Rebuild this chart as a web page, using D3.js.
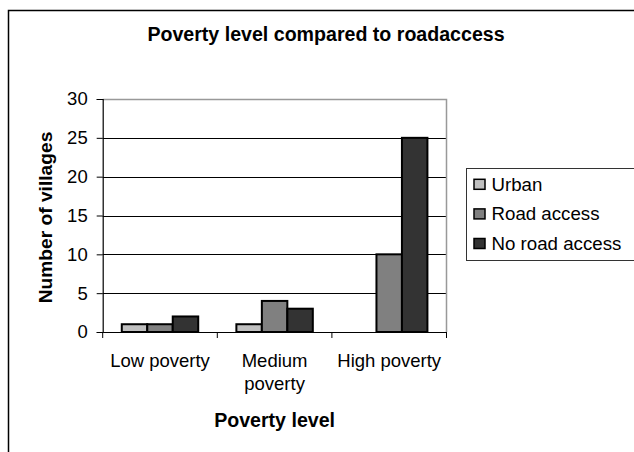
<!DOCTYPE html>
<html>
<head>
<meta charset="utf-8">
<script src="https://cdn.jsdelivr.net/npm/d3@7"></script>
<style>
  html, body { margin: 0; padding: 0; background: #fff; }
  svg { display: block; font-family: "Liberation Sans", Arial, sans-serif; }
</style>
</head>
<body>
<svg id="chart" width="634" height="452"></svg>
<script>
const categories = ["Low poverty", "Medium poverty", "High poverty"];
const categoryLabelLines = [["Low poverty"], ["Medium", "poverty"], ["High poverty"]];
const seriesNames = ["Urban", "Road access", "No road access"];
const urbanValues = [1, 1, 0];
const roadAccessValues = [1, 4, 10];
const noRoadAccessValues = [2, 3, 25];
const yTicks = [0, 5, 10, 15, 20, 25, 30];
const titleText = "Poverty level compared to roadaccess";
const xTitleText = "Poverty level";
const yTitleText = "Number of villages";

const seriesValues = [urbanValues, roadAccessValues, noRoadAccessValues];
const colors = ["#c0c0c0", "#808080", "#333333"];

const svg = d3.select("#chart");
const L = 102.7, R = 446.5, T = 99, B = 332;

// outer chart border (extends beyond the picture on the right and bottom)
svg.append("rect").attr("x", 8.5).attr("y", 10.5).attr("width", 700).attr("height", 600)
  .attr("fill", "none").attr("stroke", "#000").attr("stroke-width", 1.5);

const x = d3.scaleBand().domain(categories).range([L, R]).paddingInner(0).paddingOuter(0);
const bw = x.bandwidth();
const groupW = bw * 0.667;
const xs = d3.scaleBand().domain(seriesNames).range([(bw - groupW) / 2, (bw + groupW) / 2]);
const y = d3.scaleLinear().domain([0, 30]).range([B, T]);

// gridlines
svg.append("g").selectAll("line").data(yTicks.filter(v => v > 0 && v < 30)).join("line")
  .attr("x1", L).attr("x2", R)
  .attr("y1", d => Math.round(y(d)) + 0.5).attr("y2", d => Math.round(y(d)) + 0.5)
  .attr("stroke", "#000").attr("stroke-width", 1);

// plot area border top/right (gray)
svg.append("path")
  .attr("d", `M${L},${Math.round(y(30)) + 0.5}H${R}V${B}`)
  .attr("fill", "none").attr("stroke", "#999").attr("stroke-width", 1.5);

// bars
const table = [];
categories.forEach((c, i) => seriesNames.forEach((s, j) => table.push({c, s, j, v: seriesValues[j][i]})));
svg.append("g").selectAll("rect").data(table.filter(d => d.v > 0)).join("rect")
  .attr("x", d => x(d.c) + xs(d.s))
  .attr("y", d => y(d.v))
  .attr("width", xs.bandwidth())
  .attr("height", d => y(0) - y(d.v))
  .attr("fill", d => colors[d.j])
  .attr("stroke", "#000").attr("stroke-width", 2);

// y axis
const yAxis = d3.axisLeft(y).tickValues(yTicks).tickSize(6).tickPadding(9);
const yg = svg.append("g").attr("transform", `translate(${L},0)`).call(yAxis);
yg.select(".domain").attr("stroke", "#000").attr("stroke-width", 1.2);
yg.selectAll(".tick line").attr("stroke", "#000");
yg.selectAll("text").attr("font-size", "18.5px").attr("fill", "#000")
  .attr("font-family", "'Liberation Sans', Arial, sans-serif");

// x axis
const xAxis = d3.axisBottom(x).tickValues([]).tickSizeOuter(0);
const xg = svg.append("g").attr("transform", `translate(0,${B})`).call(xAxis);
xg.select(".domain").attr("stroke", "#000").attr("stroke-width", 1.2);
xg.selectAll("line.sep").data([L, L + bw, L + 2 * bw, R]).join("line").attr("class", "sep")
  .attr("x1", d => d).attr("x2", d => d).attr("y1", 0).attr("y2", 6).attr("stroke", "#000");

// x tick labels
const xl = svg.append("g");
categories.forEach((c, i) => {
  const t = xl.append("text").attr("text-anchor", "middle")
    .attr("font-size", "18.5px").attr("fill", "#000");
  categoryLabelLines[i].forEach((line, k) => {
    t.append("tspan").attr("x", x(c) + bw / 2).attr("y", 367 + k * 23).text(line);
  });
});

// titles
svg.append("text").attr("x", 326).attr("y", 41).attr("text-anchor", "middle")
  .attr("font-size", "19.6px").attr("font-weight", "bold").text(titleText);
svg.append("text").attr("x", (L + R) / 2).attr("y", 427).attr("text-anchor", "middle")
  .attr("font-size", "19.6px").attr("font-weight", "bold").text(xTitleText);
svg.append("text").attr("transform", `translate(51.5,${(T + B) / 2 + 2}) rotate(-90)`)
  .attr("text-anchor", "middle")
  .attr("font-size", "19.2px").attr("font-weight", "bold").text(yTitleText);

// legend
const lg = svg.append("g");
lg.append("rect").attr("x", 466.5).attr("y", 168.5).attr("width", 180).attr("height", 92)
  .attr("fill", "#fff").attr("stroke", "#333").attr("stroke-width", 1);
const rowY = d3.scalePoint().domain(seriesNames).range([184.3, 243.5]);
seriesNames.forEach((s, j) => {
  lg.append("rect").attr("x", 474).attr("y", rowY(s) - 5).attr("width", 11).attr("height", 10)
    .attr("fill", colors[j]).attr("stroke", "#000").attr("stroke-width", 1.5);
  lg.append("text").attr("x", 491.5).attr("y", rowY(s)).attr("dy", "0.35em")
    .attr("font-size", "18.7px").attr("fill", "#000").text(s);
});
</script>
</body>
</html>
